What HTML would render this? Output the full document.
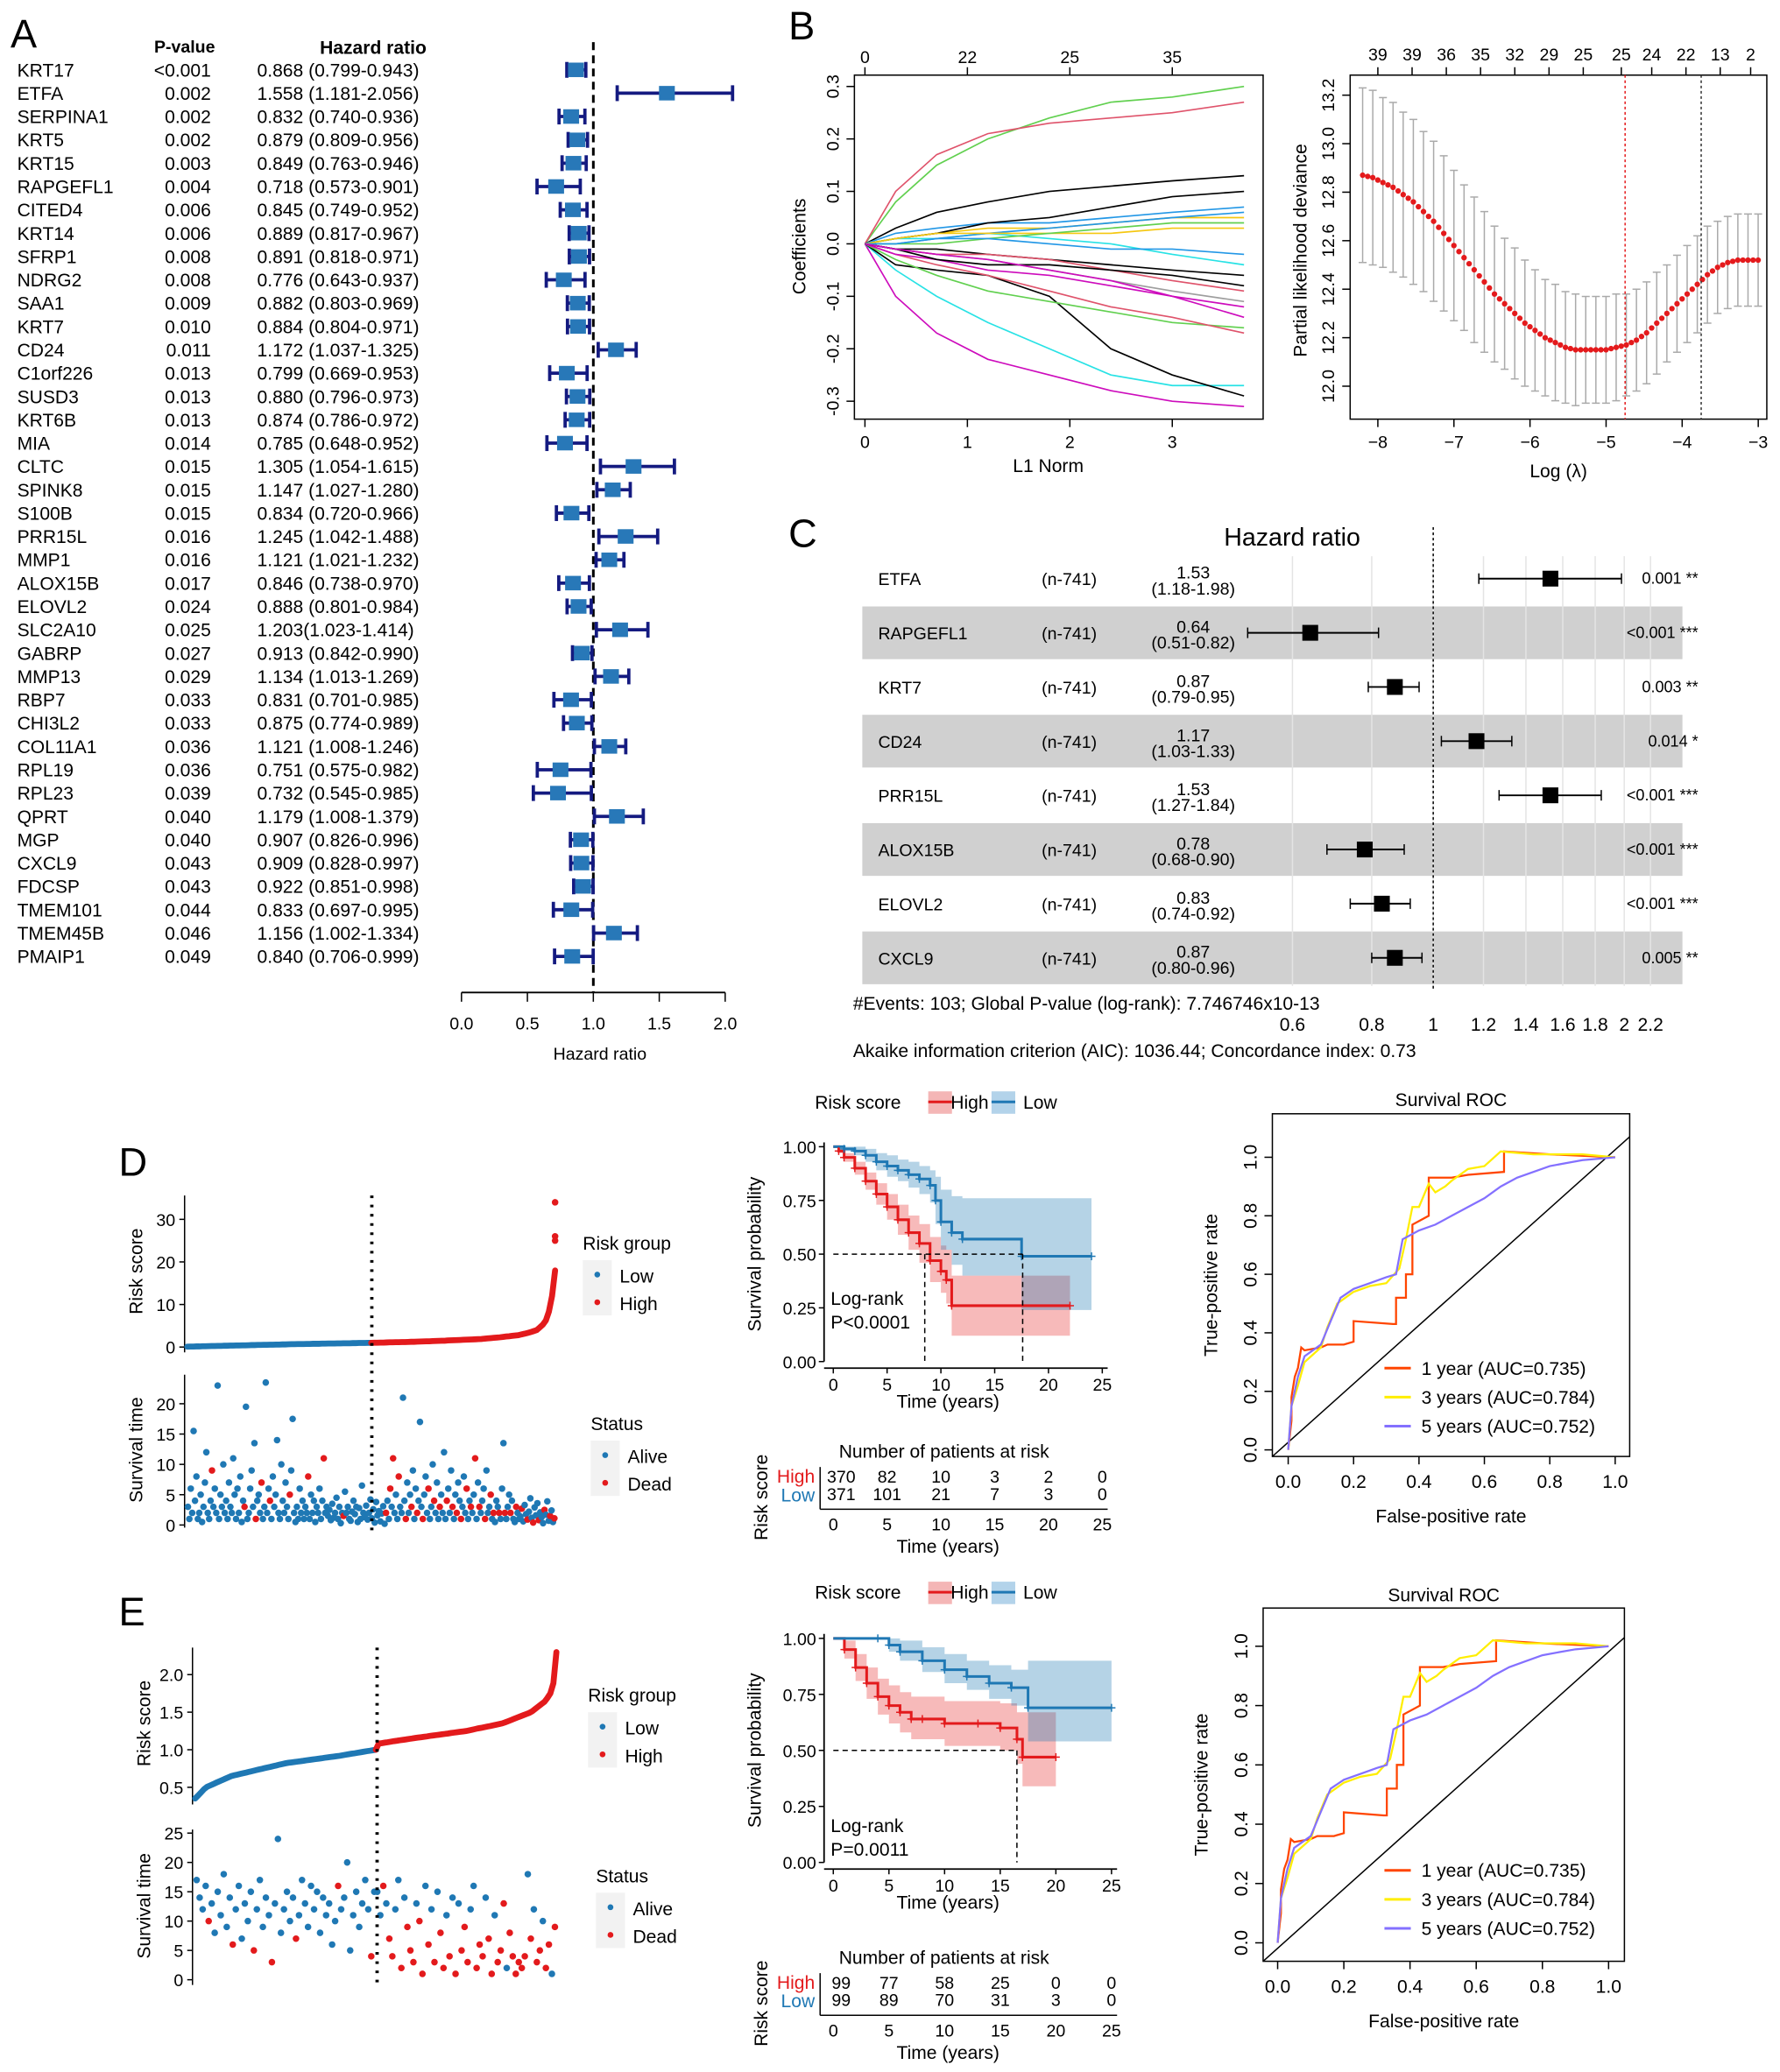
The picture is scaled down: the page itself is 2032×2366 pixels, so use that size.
<!DOCTYPE html>
<html><head><meta charset="utf-8"><title>Prognostic signature figure</title>
<style>
html,body{margin:0;padding:0;background:#fff;}
svg{display:block;font-family:"Liberation Sans",Arial,sans-serif;}
.nar{font-family:"Liberation Sans Narrow","Liberation Sans",sans-serif;}
</style></head>
<body>
<svg id="fig" xmlns="http://www.w3.org/2000/svg" width="2032" height="2366" viewBox="0 0 1350 1572" preserveAspectRatio="none">
<rect x="0" y="0" width="1350" height="1572" fill="#fff"/>
</svg>
<script>
// ===== Panel A data =====
const aGenes=["KRT17","ETFA","SERPINA1","KRT5","KRT15","RAPGEFL1","CITED4","KRT14","SFRP1","NDRG2","SAA1","KRT7","CD24","C1orf226","SUSD3","KRT6B","MIA","CLTC","SPINK8","S100B","PRR15L","MMP1","ALOX15B","ELOVL2","SLC2A10","GABRP","MMP13","RBP7","CHI3L2","COL11A1","RPL19","RPL23","QPRT","MGP","CXCL9","FDCSP","TMEM101","TMEM45B","PMAIP1"];
const aPvals=["<0.001","0.002","0.002","0.002","0.003","0.004","0.006","0.006","0.008","0.008","0.009","0.010","0.011","0.013","0.013","0.013","0.014","0.015","0.015","0.015","0.016","0.016","0.017","0.024","0.025","0.027","0.029","0.033","0.033","0.036","0.036","0.039","0.040","0.040","0.043","0.043","0.044","0.046","0.049"];
const aHR=[0.868,1.558,0.832,0.879,0.849,0.718,0.845,0.889,0.891,0.776,0.882,0.884,1.172,0.799,0.880,0.874,0.785,1.305,1.147,0.834,1.245,1.121,0.846,0.888,1.203,0.913,1.134,0.831,0.875,1.121,0.751,0.732,1.179,0.907,0.909,0.922,0.833,1.156,0.840];
const aLo=[0.799,1.181,0.740,0.809,0.763,0.573,0.749,0.817,0.818,0.643,0.803,0.804,1.037,0.669,0.796,0.786,0.648,1.054,1.027,0.720,1.042,1.021,0.738,0.801,1.023,0.842,1.013,0.701,0.774,1.008,0.575,0.545,1.008,0.826,0.828,0.851,0.697,1.002,0.706];
const aHi=[0.943,2.056,0.936,0.956,0.946,0.901,0.952,0.967,0.971,0.937,0.969,0.971,1.325,0.953,0.973,0.972,0.952,1.615,1.280,0.966,1.488,1.232,0.970,0.984,1.414,0.990,1.269,0.985,0.989,1.246,0.982,0.985,1.379,0.996,0.997,0.998,0.995,1.334,0.999];
const aTicks=[0.0,0.5,1.0,1.5,2.0];
// ===== Panel B data =====
const lassoNorm=[0,0.3,0.7,1.2,1.8,2.4,3.0,3.7];
const lassoColors=["#61d04f","#df536b","#000000","#cd0bbc","#28e2e5","#000000","#2297e6","#f5c710","#9e9e9e","#61d04f","#df536b","#000000","#cd0bbc","#28e2e5","#2297e6","#000000","#f5c710","#df536b","#61d04f","#000000","#2297e6","#cd0bbc"];
const lassoCoefs=[
[0,0.08,0.15,0.20,0.24,0.27,0.28,0.30],
[0,0.10,0.17,0.21,0.23,0.24,0.25,0.27],
[0,0.03,0.06,0.08,0.10,0.11,0.12,0.13],
[0,-0.10,-0.17,-0.22,-0.25,-0.28,-0.30,-0.31],
[0,-0.05,-0.10,-0.15,-0.20,-0.25,-0.27,-0.27],
[0,-0.04,-0.05,-0.06,-0.10,-0.20,-0.25,-0.29],
[0,0.02,0.03,0.04,0.04,0.05,0.06,0.07],
[0,0.01,0.02,0.03,0.03,0.04,0.05,0.05],
[0,-0.01,-0.02,-0.03,-0.05,-0.07,-0.09,-0.11],
[0,-0.03,-0.06,-0.09,-0.11,-0.13,-0.15,-0.16],
[0,-0.02,-0.04,-0.06,-0.09,-0.12,-0.14,-0.17],
[0,0.01,0.02,0.04,0.05,0.07,0.09,0.10],
[0,-0.02,-0.03,-0.05,-0.06,-0.08,-0.10,-0.12],
[0,0.01,0.01,0.02,0.01,0.00,-0.02,-0.04],
[0,0.00,0.01,0.02,0.03,0.04,0.05,0.06],
[0,-0.01,-0.01,-0.02,-0.03,-0.04,-0.05,-0.06],
[0,0.01,0.02,0.02,0.02,0.02,0.03,0.03],
[0,-0.01,-0.02,-0.02,-0.03,-0.05,-0.07,-0.09],
[0,0.00,0.00,0.01,0.02,0.03,0.04,0.04],
[0,-0.01,-0.03,-0.04,-0.04,-0.05,-0.06,-0.08],
[0,0.00,0.01,0.01,0.00,-0.01,-0.01,-0.02],
[0,-0.01,-0.02,-0.03,-0.05,-0.07,-0.10,-0.14]];
const lassoTopLabels=["0","22","25","35"];
const cvLogLambda0=-8.2, cvStep=0.1333;
const cvDev=[12.87,12.86,12.84,12.82,12.79,12.76,12.72,12.68,12.63,12.58,12.53,12.48,12.43,12.38,12.34,12.30,12.26,12.23,12.20,12.18,12.16,12.15,12.15,12.15,12.15,12.16,12.17,12.19,12.22,12.26,12.30,12.34,12.38,12.42,12.46,12.49,12.51,12.52,12.52,12.52];
const cvSE=[0.36,0.36,0.35,0.35,0.34,0.34,0.33,0.33,0.32,0.31,0.30,0.30,0.29,0.28,0.27,0.27,0.26,0.25,0.24,0.24,0.23,0.23,0.22,0.22,0.22,0.22,0.21,0.21,0.21,0.21,0.20,0.20,0.20,0.20,0.20,0.19,0.19,0.19,0.19,0.19];
const cvTopLabels=["39","39","36","35","32","29","25","25","24","22","13","2"];
const cvTopPos=[-8.0,-7.55,-7.1,-6.65,-6.2,-5.75,-5.3,-4.8,-4.4,-3.95,-3.5,-3.1];
const cvMin=-4.75, cv1se=-3.75;
// ===== Panel C data =====
const cGenes=["ETFA","RAPGEFL1","KRT7","CD24","PRR15L","ALOX15B","ELOVL2","CXCL9"];
const cHR=[1.53,0.64,0.87,1.17,1.53,0.78,0.83,0.87];
const cLo=[1.18,0.51,0.79,1.03,1.27,0.68,0.74,0.80];
const cHi=[1.98,0.82,0.95,1.33,1.84,0.90,0.92,0.96];
const cP=["0.001 **","<0.001 ***","0.003 **","0.014 *","<0.001 ***","<0.001 ***","<0.001 ***","0.005 **"];
const cTicks=[0.6,0.8,1,1.2,1.4,1.6,1.8,2,2.2];
// ===== Panel D data =====
const dRiskQ=[0,0.1,0.2,0.3,0.4,0.5,0.6,0.7,0.8,0.85,0.9,0.93,0.95,0.97,0.98,0.99,0.995,1];
const dRiskV=[0.1,0.3,0.5,0.7,0.85,1.0,1.2,1.5,1.9,2.3,2.8,3.4,4.0,5.5,7.0,11,14,18];
const dOutliers=[25,26,34];
const dTimesLow=[3,1,6,2,15.5,4,8,1,2,5,0.5,3,7,12,2,1,4,9,3,6,2,23,1,5,3,10,2,4,1,7,3,2,11,5,1,6,2,8,0.5,4,3,19.5,1,2,6,9,3,13.5,1,4,5,2,7,1,3,23.5,2,6,4,1,8,3,5,14,2,1,10,4,2,7,3,1,5,9,17.5,2,0.5,3,1,6,2,4,1,3,2,8,1,5,2,4,0.5,3,2,6,1,4,11,2,3,1.5,2.5,0.8,3.5,1.2,2,4.5,1,3,0.3,2,1.5,5.5,2,3,1,0.7,2.2,4,1.8,3,0.5,2.8,1,6.5,2,1.3,3.2,0.9,2,4.2,1.1,2.6,0.4,3.8,1.6,2.3,0.6,1.9,3.1,0.2];
const dTimesHigh=[2,4,1,6,3,11,2,5,1,8,3,2,21,4,1,7,2,5,3,9,1,6,2,4,17,3,1,5,8,2,6,1,3,10,4,2,7,1,3,5,2,12,1,4,6,2,9,3,1,5,2,7,4,1,3,8,2,6,1,4,3,2,5,11,1,7,3,2,4,6,1,9,2,3,5,1,2,0.5,4,3,2,1,6,13.5,2,1,3,5,2,4,1,0.5,3,2,1,1.4,2.7,0.6,3.3,1.8,0.9,2.2,4.4,1.2,0.4,2.9,1.6,3.6,0.8,2.1,1.3,0.3,2.5,1.7,3.9,0.7,1.5,2.4,0.5,1.1];
const dDeadLow=[17,40,48,52,58,72,85,96,110];
const dDeadHigh=[0,3,5,9,14,18,22,26,30,34,38,43,47,50,53,57,60,63,66,70,74,76,80,84,88,92,96,100,104,108,112,116,119];
const dKmHighT=[0,0.5,1,2,3,4,5,6,7,8,9,10,10.5,11,22];
const dKmHighS=[1,0.98,0.95,0.90,0.84,0.78,0.72,0.66,0.60,0.55,0.47,0.42,0.38,0.26,0.26];
const dKmHighLo=[1,0.97,0.93,0.87,0.80,0.73,0.66,0.59,0.52,0.46,0.37,0.32,0.27,0.12,0.12];
const dKmHighHi=[1,0.99,0.97,0.93,0.88,0.83,0.78,0.73,0.68,0.64,0.58,0.54,0.52,0.40,0.40];
const dKmLowT=[0,1,2,3,4,5,6,7,8,9,9.5,10,11,12,17.5,24];
const dKmLowS=[1,0.99,0.98,0.96,0.93,0.91,0.89,0.87,0.85,0.82,0.75,0.65,0.60,0.57,0.49,0.49];
const dKmLowLo=[1,0.98,0.96,0.93,0.89,0.86,0.84,0.81,0.78,0.74,0.64,0.52,0.45,0.40,0.24,0.24];
const dKmLowHi=[1,1,1,0.99,0.97,0.96,0.94,0.93,0.91,0.89,0.86,0.80,0.77,0.76,0.76,0.76];
const dAtRiskHigh=["370","82","10","3","2","0"];
const dAtRiskLow=["371","101","21","7","3","0"];
const dMedHigh=8.5, dMedLow=17.6;
const roc1F=[0,0.01,0.01,0.02,0.03,0.04,0.05,0.10,0.12,0.17,0.20,0.20,0.32,0.33,0.33,0.36,0.36,0.38,0.38,0.43,0.43,0.50,0.55,0.55,0.66,0.66,0.80,1];
const roc1T=[0,0.10,0.18,0.25,0.28,0.35,0.34,0.35,0.36,0.36,0.37,0.44,0.43,0.43,0.52,0.52,0.60,0.60,0.77,0.80,0.93,0.93,0.94,0.94,0.95,1.02,1.01,1];
const roc3F=[0,0.01,0.03,0.05,0.10,0.12,0.15,0.20,0.25,0.30,0.34,0.36,0.38,0.40,0.43,0.45,0.48,0.50,0.55,0.60,0.65,0.75,0.90,1];
const roc3T=[0,0.15,0.22,0.30,0.35,0.42,0.50,0.54,0.56,0.57,0.62,0.72,0.83,0.83,0.91,0.88,0.90,0.92,0.96,0.97,1.02,1.01,1.01,1];
const roc5F=[0,0.01,0.03,0.05,0.10,0.13,0.16,0.20,0.25,0.30,0.33,0.35,0.40,0.45,0.50,0.55,0.60,0.65,0.70,0.75,0.80,0.85,0.90,1];
const roc5T=[0,0.15,0.25,0.32,0.36,0.44,0.52,0.55,0.57,0.59,0.60,0.72,0.75,0.77,0.80,0.83,0.86,0.90,0.93,0.95,0.97,0.98,0.99,1];
// ===== Panel E data =====
const eRiskQ=[0,0.03,0.1,0.25,0.4,0.5,0.505,0.6,0.75,0.85,0.93,0.97,0.99,1];
const eRiskV=[0.35,0.5,0.65,0.82,0.92,1.0,1.08,1.15,1.25,1.35,1.5,1.65,1.8,2.3];
const eTimesLow=[17,14,12,16,10,13,8,15,11,18,9,14,6,12,16,7,13,10,15,5,12,17,9,14,11,3,13,24,8,12,15,10,14,7,11,17,13,9,16,12,15,8,14,11,13,6,10,16,12,14,20,5,11,15,9,13,17,12,4,15];
const eTimesHigh=[15,11,16,13,7,4,12,17,2,14,9,5,3,13,10,1,16,6,12,3,15,8,2,11,4,14,1,13,5,9,3,12,16,2,6,4,14,7,1,11,3,5,13,2,8,4,1,3,2,4,18,7,12,3,5,10,2,6,1,9];
const eDeadLow=[4,12,19,25,33,47,58];
const eDeadHigh=[2,4,5,8,10,11,12,14,15,17,19,21,22,24,26,28,29,30,33,34,35,37,38,40,41,42,44,45,46,47,48,49,51,53,54,56,57,59];
const eKmHighT=[0,1,2,3,4,5,6,7,8,10,13,15,16.5,17,20];
const eKmHighS=[1,0.95,0.87,0.80,0.74,0.70,0.67,0.64,0.64,0.62,0.62,0.60,0.55,0.47,0.47];
const eKmHighLo=[1,0.91,0.81,0.73,0.66,0.62,0.58,0.55,0.55,0.52,0.52,0.50,0.44,0.34,0.34];
const eKmHighHi=[1,0.99,0.93,0.87,0.82,0.79,0.76,0.74,0.74,0.72,0.72,0.71,0.67,0.67,0.67];
const eKmLowT=[0,4,5,6,8,10,12,14,16,17.5,25];
const eKmLowS=[1,1,0.97,0.94,0.90,0.86,0.83,0.80,0.78,0.69,0.69];
const eKmLowLo=[1,1,0.94,0.90,0.85,0.80,0.77,0.73,0.70,0.54,0.54];
const eKmLowHi=[1,1,1,0.99,0.96,0.93,0.90,0.88,0.86,0.90,0.90];
const eAtRiskHigh=["99","77","58","25","0","0"];
const eAtRiskLow=["99","89","70","31","3","0"];
const eMedHigh=16.5;

// ===== helpers =====
const NS="http://www.w3.org/2000/svg";
const svg=document.getElementById('fig');
function mk(tag,attrs,name,parent){
  const el=document.createElementNS(NS,tag);
  for(const k in attrs) el.setAttribute(k,attrs[k]);
  
  
  (parent||svg).appendChild(el);
  return el;
}
function txt(x,y,s,name,o){
  o=o||{};
  const a={x:x,y:y,'font-size':o.size||13,fill:o.fill||'#000','text-anchor':o.anchor||'start'};
  if(o.weight) a['font-weight']=o.weight;
  if(o.rot!==undefined) a.transform='rotate('+o.rot+' '+x+' '+y+')';
  if(o.cls) a['class']=o.cls;
  const t=mk('text',a,name);
  t.textContent=s;
  return t;
}
function line(x1,y1,x2,y2,name,o){
  o=o||{};
  const a={x1:x1,y1:y1,x2:x2,y2:y2,stroke:o.stroke||'#000','stroke-width':o.w||1};
  if(o.dash) a['stroke-dasharray']=o.dash;
  return mk('line',a,name);
}
function lerp(q,v,f){for(let i=1;i<q.length;i++){if(f<=q[i]){const t=(f-q[i-1])/(q[i]-q[i-1]);return v[i-1]+t*(v[i]-v[i-1]);}}return v[v.length-1];}

// ===== Panel A =====
txt(8,36,"A","panel-a-label",{size:30});
txt(140,40,"P-value","p-value-header",{size:13,weight:'bold',anchor:'middle',cls:'nar'});
txt(283,41,"Hazard ratio","hr-header",{size:14,weight:'bold',anchor:'middle',cls:'nar'});
const aX=v=>350+v*100, aY=i=>53+i*17.7;
line(aX(1),32,aX(1),753,"reference-line-hr1",{w:2,dash:'6,4'});
aGenes.forEach((g,i)=>{
  const y=aY(i);
  txt(13,y+5,g,"gene-label",{size:14,cls:'nar'});
  txt(160,y+5,aPvals[i],"p-value",{size:14,anchor:'end',cls:'nar'});
  txt(195,y+5,aHR[i].toFixed(3)+(i===24?"(":" (")+aLo[i].toFixed(3)+"-"+aHi[i].toFixed(3)+")","hr-ci-text",{size:14,cls:'nar'});
  line(aX(aLo[i]),y,aX(aHi[i]),y,"ci-bar",{stroke:'#141a80',w:2.5});
  line(aX(aLo[i]),y-6,aX(aLo[i]),y+6,"ci-cap",{stroke:'#141a80',w:2.5});
  line(aX(aHi[i]),y-6,aX(aHi[i]),y+6,"ci-cap",{stroke:'#141a80',w:2.5});
  mk('rect',{x:aX(aHR[i])-6,y:y-5.5,width:12,height:11,fill:'#2878b8'},"hr-point");
});
line(aX(0),753,aX(2),753,"x-axis-a",{w:1.2});
aTicks.forEach(t=>{line(aX(t),753,aX(t),760,"x-tick");txt(aX(t),781,t.toFixed(1),"x-tick-label",{size:13,anchor:'middle'});});
txt(455,804,"Hazard ratio","x-axis-title-a",{size:13,anchor:'middle'});

// ===== Panel B left =====
txt(598,30,"B","panel-b-label",{size:30});
const bX=v=>656+v*77.7, bY=v=>185-v*398;
mk('rect',{x:648,y:57,width:310,height:261,fill:'none',stroke:'#000','stroke-width':1},"lasso-plot-box");
lassoCoefs.forEach((c,k)=>{
  let d="";
  c.forEach((v,i)=>{d+=(i?"L":"M")+bX(lassoNorm[i]).toFixed(1)+","+bY(v).toFixed(1);});
  mk('path',{d:d,fill:'none',stroke:lassoColors[k],'stroke-width':1.1},"coef-path");
});
[0,1,2,3].forEach((t,i)=>{line(bX(t),318,bX(t),324,"x-tick");txt(bX(t),340,String(t),"x-tick-label",{size:13,anchor:'middle'});
  line(bX(t),57,bX(t),51,"top-tick");txt(bX(t),48,lassoTopLabels[i],"top-tick-label",{size:13,anchor:'middle'});});
[-0.3,-0.2,-0.1,0,0.1,0.2,0.3].forEach(t=>{line(648,bY(t),642,bY(t),"y-tick");txt(636,bY(t),t.toFixed(1),"y-tick-label",{size:13,anchor:'middle',rot:-90});});
txt(795,358,"L1 Norm","x-axis-title",{size:14,anchor:'middle'});
txt(611,187,"Coefficients","y-axis-title",{size:14,anchor:'middle',rot:-90});

// ===== Panel B right =====
const cvX=v=>1045+(v+8)*57.7, cvY=v=>293-(v-12.0)*184;
mk('rect',{x:1024,y:57,width:316,height:261,fill:'none',stroke:'#000','stroke-width':1},"cv-plot-box");
cvDev.forEach((v,i)=>{
  const l=cvLogLambda0+i*cvStep, x=cvX(l);
  line(x,cvY(v-cvSE[i]),x,cvY(v+cvSE[i]),"error-bar",{stroke:'#aaa',w:1});
  line(x-3,cvY(v-cvSE[i]),x+3,cvY(v-cvSE[i]),"error-cap",{stroke:'#aaa'});
  line(x-3,cvY(v+cvSE[i]),x+3,cvY(v+cvSE[i]),"error-cap",{stroke:'#aaa'});
});
cvDev.forEach((v,i)=>{
  const l=cvLogLambda0+i*cvStep;
  mk('circle',{cx:cvX(l),cy:cvY(v),r:2.1,fill:'#e41a1c'},"deviance-point");
  if(i<cvDev.length-1){mk('circle',{cx:cvX(l+cvStep/2),cy:cvY((v+cvDev[i+1])/2),r:2.1,fill:'#e41a1c'},"deviance-point");}
});
line(cvX(cvMin),57,cvX(cvMin),318,"lambda-min-line",{stroke:'#e41a1c',dash:'2,2'});
line(cvX(cv1se),57,cvX(cv1se),318,"lambda-1se-line",{stroke:'#333',dash:'2,2'});
[-8,-7,-6,-5,-4,-3].forEach(t=>{line(cvX(t),318,cvX(t),324,"x-tick");txt(cvX(t),340,String(t).replace('-','−'),"x-tick-label",{size:13,anchor:'middle'});});
cvTopLabels.forEach((s,i)=>{const x=cvX(cvTopPos[i]);line(x,57,x,51,"top-tick");txt(x,46,s,"top-tick-label",{size:13,anchor:'middle'});});
[12.0,12.2,12.4,12.6,12.8,13.0,13.2].forEach(t=>{line(1024,cvY(t),1018,cvY(t),"y-tick");txt(1012,cvY(t),t.toFixed(1),"y-tick-label",{size:13,anchor:'middle',rot:-90});});
txt(1182,362,"Log (λ)","x-axis-title",{size:14,anchor:'middle'});
txt(991,190,"Partial likelihood deviance","y-axis-title",{size:14,anchor:'middle',rot:-90});

// ===== Panel C =====
txt(598,415,"C","panel-c-label",{size:30});
const cX=v=>1087+Math.log(v)*209, cY=i=>439+i*41.1;
cGenes.forEach((g,i)=>{if(i%2===1) mk('rect',{x:654,y:cY(i)-20,width:622,height:40,fill:'#d0d0d0'},"row-band");});
cTicks.forEach(t=>{line(cX(t),422,cX(t),748,"grid-line",{stroke:'#e4e4e4',w:1});});
txt(980,414,"Hazard ratio","c-title",{size:19,anchor:'middle',cls:'nar'});
line(1087,400,1087,752,"reference-line-hr1",{dash:'2,2'});
cGenes.forEach((g,i)=>{
  const y=cY(i);
  txt(666,y+5,g,"gene-label",{size:13,cls:'nar'});
  txt(790,y+5,"(n-741)","n-label",{size:13,cls:'nar'});
  txt(905,y,cHR[i].toFixed(2),"hr-value",{size:13,anchor:'middle',cls:'nar'});
  txt(905,y+12,"("+cLo[i].toFixed(2)+"-"+cHi[i].toFixed(2)+")","ci-value",{size:13,anchor:'middle',cls:'nar'});
  line(cX(cLo[i]),y,cX(cHi[i]),y,"ci-line",{w:1.3});
  line(cX(cLo[i]),y-4,cX(cLo[i]),y+4,"ci-cap");
  line(cX(cHi[i]),y-4,cX(cHi[i]),y+4,"ci-cap");
  mk('rect',{x:cX(cHR[i])-6,y:y-6,width:12,height:12,fill:'#000'},"hr-point");
  txt(1288,y+4,cP[i],"p-value",{size:12,anchor:'end',cls:'nar'});
});
txt(647,766,"#Events: 103; Global P-value (log-rank): 7.746746x10-13","events-note",{size:14,cls:'nar'});
cTicks.forEach(t=>{txt(cX(t),782,String(t),"x-tick-label",{size:14,anchor:'middle',cls:'nar'});});
txt(647,802,"Akaike information criterion (AIC): 1036.44; Concordance index: 0.73","aic-note",{size:14,cls:'nar'});

// ===== risk plots =====
function riskPanel(o){
  const times=o.tLow.concat(o.tHigh);
  const deadSet=new Set(o.dLow.concat(o.dHigh.map(i=>i+o.tLow.length)));
  const n=times.length;
  const xs=f=>o.x0+f*(o.x1-o.x0);
  line(o.x0-2,o.rTop,o.x0-2,o.rBase+4,"y-axis-risk",{w:1});
  o.rTicks.forEach(t=>{const y=o.rY(t);line(o.x0-6,y,o.x0-2,y,"y-tick");txt(o.x0-9,y+5,o.rFmt(t),"y-tick-label",{size:13,anchor:'end'});});
  let dl="",dh="";
  const steps=120;
  for(let k=0;k<=steps;k++){const f=k/steps;const p=xs(f).toFixed(1)+","+o.rY(lerp(o.rq,o.rv,f)).toFixed(1);
    if(f<=0.5) dl+=(dl?"L":"M")+p; if(f>=0.5) dh+=(dh?"L":"M")+p;}
  mk('path',{d:dl,fill:'none',stroke:'#1f78b4','stroke-width':4.5,'stroke-linecap':'round'},"risk-curve-low");
  mk('path',{d:dh,fill:'none',stroke:'#e31a1c','stroke-width':4.5,'stroke-linecap':'round'},"risk-curve-high");
  (o.outliers||[]).forEach((v,i)=>{mk('circle',{cx:o.x1,cy:o.rY(v),r:2.5,fill:'#e31a1c'},"risk-outlier");});
  txt(o.x0-34,(o.rTop+o.rBase)/2,"Risk score","y-axis-title",{size:14,anchor:'middle',rot:-90});
  line(o.x0-2,o.sTop,o.x0-2,o.sBase+2,"y-axis-time",{w:1});
  o.sTicks.forEach(t=>{const y=o.sY(t);line(o.x0-6,y,o.x0-2,y,"y-tick");txt(o.x0-9,y+5,String(t),"y-tick-label",{size:13,anchor:'end'});});
  times.forEach((t,i)=>{
    mk('circle',{cx:xs((i+0.5)/n),cy:o.sY(t),r:2.5,fill:deadSet.has(i)?'#e31a1c':'#1f78b4'},"survival-point");
  });
  txt(o.x0-34,(o.sTop+o.sBase)/2,"Survival time","y-axis-title",{size:14,anchor:'middle',rot:-90});
  line(o.xSplit,o.rTop,o.xSplit,o.sBase+4,"group-cutoff-line",{w:2.5,dash:'2,5'});
  txt(o.lx,o.ly,"Risk group","legend-title",{size:14});
  mk('rect',{x:o.lx,y:o.ly+8,width:22,height:42,fill:'#f2f2f2'},"legend-key-bg");
  mk('circle',{cx:o.lx+11,cy:o.ly+19,r:2.2,fill:'#1f78b4'},"legend-marker-low");
  mk('circle',{cx:o.lx+11,cy:o.ly+40,r:2.2,fill:'#e31a1c'},"legend-marker-high");
  txt(o.lx+28,o.ly+25,"Low","legend-label",{size:14});
  txt(o.lx+28,o.ly+46,"High","legend-label",{size:14});
  txt(o.lx+6,o.ly2,"Status","legend-title",{size:14});
  mk('rect',{x:o.lx+6,y:o.ly2+8,width:22,height:42,fill:'#f2f2f2'},"legend-key-bg");
  mk('circle',{cx:o.lx+17,cy:o.ly2+19,r:2.2,fill:'#1f78b4'},"legend-marker-alive");
  mk('circle',{cx:o.lx+17,cy:o.ly2+40,r:2.2,fill:'#e31a1c'},"legend-marker-dead");
  txt(o.lx+34,o.ly2+25,"Alive","legend-label",{size:14});
  txt(o.lx+34,o.ly2+46,"Dead","legend-label",{size:14});
}
txt(90,892,"D","panel-d-label",{size:30});
riskPanel({x0:142,x1:421,xSplit:282,rTop:907,rBase:1022,rY:v=>1022-v*3.23,rq:dRiskQ,rv:dRiskV,outliers:dOutliers,rTicks:[0,10,20,30],rFmt:t=>String(t),
  sTop:1043,sBase:1157,sY:v=>1157-v*4.6,sTicks:[0,5,10,15,20],tLow:dTimesLow,tHigh:dTimesHigh,dLow:dDeadLow,dHigh:dDeadHigh,lx:442,ly:948,ly2:1085});
txt(90,1233,"E","panel-e-label",{size:30});
riskPanel({x0:148,x1:422,xSplit:286,rTop:1250,rBase:1365,rY:v=>1356-(v-0.5)*57,rq:eRiskQ,rv:eRiskV,outliers:[],rTicks:[0.5,1.0,1.5,2.0],rFmt:t=>t.toFixed(1),
  sTop:1388,sBase:1504,sY:v=>1502-v*4.45,sTicks:[0,5,10,15,20,25],tLow:eTimesLow,tHigh:eTimesHigh,dLow:eDeadLow,dHigh:eDeadHigh,lx:446,ly:1291,ly2:1428});

// ===== KM =====
function stepPath(T,S,xS,yS){let d="M"+xS(T[0])+","+yS(S[0]);for(let i=1;i<T.length;i++){d+="H"+xS(T[i]).toFixed(1)+"V"+yS(S[i]).toFixed(1);}return d;}
function band(T,L,H,xS,yS){let d="M"+xS(T[0])+","+yS(H[0]);for(let i=1;i<T.length;i++){d+="H"+xS(T[i]).toFixed(1)+"V"+yS(H[i]).toFixed(1);}
  for(let i=T.length-1;i>=0;i--){d+="L"+xS(T[i]).toFixed(1)+","+yS(L[i]).toFixed(1);if(i>0)d+="L"+xS(T[i]).toFixed(1)+","+yS(L[i-1]).toFixed(1);}
  return d+"Z";}
function km(o){
  const xS=t=>o.x0+t*o.px, yS=s=>o.yb-s*o.py;
  txt(o.x0-14,o.legY,"Risk score","legend-title",{size:14});
  mk('rect',{x:o.x0+72,y:o.legY-13,width:18,height:17,fill:'#f4b6b6'},"legend-key-high");
  line(o.x0+72,o.legY-5,o.x0+90,o.legY-5,"legend-line-high",{stroke:'#e31a1c',w:2});
  txt(o.x0+89,o.legY,"High","legend-label",{size:14});
  mk('rect',{x:o.x0+120,y:o.legY-13,width:18,height:17,fill:'#b3d3ea'},"legend-key-low");
  line(o.x0+120,o.legY-5,o.x0+138,o.legY-5,"legend-line-low",{stroke:'#1f78b4',w:2});
  txt(o.x0+144,o.legY,"Low","legend-label",{size:14});
  mk('path',{d:band(o.hT,o.hL,o.hH,xS,yS),fill:'#e31a1c','fill-opacity':0.3},"ci-band-high");
  mk('path',{d:band(o.lT,o.lL,o.lH,xS,yS),fill:'#1f78b4','fill-opacity':0.33},"ci-band-low");
  mk('path',{d:stepPath(o.hT,o.hS,xS,yS),fill:'none',stroke:'#e31a1c','stroke-width':2},"km-curve-high");
  mk('path',{d:stepPath(o.lT,o.lS,xS,yS),fill:'none',stroke:'#1f78b4','stroke-width':2},"km-curve-low");
  o.hT.forEach((t,i)=>{if(i>0){line(xS(t)-3,yS(o.hS[i]),xS(t)+3,yS(o.hS[i]),"censor-mark",{stroke:'#e31a1c'});line(xS(t),yS(o.hS[i])-3,xS(t),yS(o.hS[i])+3,"censor-mark",{stroke:'#e31a1c'});}});
  o.lT.forEach((t,i)=>{if(i>0){line(xS(t)-3,yS(o.lS[i]),xS(t)+3,yS(o.lS[i]),"censor-mark",{stroke:'#1f78b4'});line(xS(t),yS(o.lS[i])-3,xS(t),yS(o.lS[i])+3,"censor-mark",{stroke:'#1f78b4'});}});
  const medX=Math.max(...o.meds);
  line(o.x0,yS(0.5),xS(medX),yS(0.5),"median-line",{dash:'4,3'});
  o.meds.forEach(m=>line(xS(m),yS(0.5),xS(m),yS(0),"median-drop",{dash:'4,3'}));
  line(o.x0-7,yS(1.02),o.x0-7,yS(0),"y-axis",{w:1.2});
  line(o.x0-7,yS(0)+5,xS(25.5),yS(0)+5,"x-axis",{w:1.2});
  [0,0.25,0.5,0.75,1].forEach(t=>{line(o.x0-11,yS(t),o.x0-7,yS(t),"y-tick");txt(o.x0-13,yS(t)+5,t.toFixed(2),"y-tick-label",{size:13,anchor:'end'});});
  [0,5,10,15,20,25].forEach(t=>{line(xS(t),yS(0)+5,xS(t),yS(0)+9,"x-tick");txt(xS(t),yS(0)+22,String(t),"x-tick-label",{size:13,anchor:'middle'});});
  txt(o.x0+87,yS(0)+35,"Time (years)","x-axis-title",{size:14,anchor:'middle'});
  txt(o.x0-55,(yS(0)+yS(1))/2,"Survival probability","y-axis-title",{size:14,anchor:'middle',rot:-90});
  txt(o.x0-2,o.lrY,"Log-rank","logrank-label",{size:14});
  txt(o.x0-2,o.lrY+18,o.p,"logrank-p",{size:14});
  txt(o.x0+84,o.tY,"Number of patients at risk","risk-table-title",{size:14,anchor:'middle'});
  txt(o.x0-14,o.tY+19,"High","risk-table-high",{size:14,anchor:'end',fill:'#e31a1c'});
  txt(o.x0-14,o.tY+33,"Low","risk-table-low",{size:14,anchor:'end',fill:'#1f78b4'});
  line(o.x0-10,o.tY+7,o.x0-10,o.tY+39,"table-axis-y");
  line(o.x0-10,o.tY+39,xS(25.5),o.tY+39,"table-axis-x");
  [0,5,10,15,20,25].forEach((t,i)=>{
    txt(xS(t)+(i===0?6:0),o.tY+19,o.hR[i],"at-risk-high",{size:13,anchor:'middle'});
    txt(xS(t)+(i===0?6:0),o.tY+32,o.lR[i],"at-risk-low",{size:13,anchor:'middle'});
    txt(xS(t),o.tY+55,String(t),"x-tick-label",{size:13,anchor:'middle'});
  });
  txt(o.x0+87,o.tY+72,"Time (years)","x-axis-title",{size:14,anchor:'middle'});
  txt(o.x0-50,o.tY+30,"Risk score","y-axis-title",{size:14,anchor:'middle',rot:-90});
}
km({x0:632,px:8.16,yb:1033,py:163,legY:841,hT:dKmHighT,hS:dKmHighS,hL:dKmHighLo,hH:dKmHighHi,lT:dKmLowT,lS:dKmLowS,lL:dKmLowLo,lH:dKmLowHi,
  meds:[dMedHigh,dMedLow],lrY:990,p:"P<0.0001",tY:1106,hR:dAtRiskHigh,lR:dAtRiskLow});
km({x0:632,px:8.44,yb:1413,py:170,legY:1213,hT:eKmHighT,hS:eKmHighS,hL:eKmHighLo,hH:eKmHighHi,lT:eKmLowT,lS:eKmLowS,lL:eKmLowLo,lH:eKmLowHi,
  meds:[eMedHigh],lrY:1390,p:"P=0.0011",tY:1490,hR:eAtRiskHigh,lR:eAtRiskLow});

// ===== ROC =====
function roc(o){
  const xS=f=>o.x0+f*o.w, yS=t=>o.y0-t*o.h;
  txt((o.bx+o.bx2)/2,o.titleY,"Survival ROC","roc-title",{size:14,anchor:'middle'});
  mk('rect',{x:o.bx,y:o.by,width:o.bx2-o.bx,height:o.by2-o.by,fill:'none',stroke:'#000'},"roc-box");
  line(o.bx,o.by2,o.bx2,o.by2-(o.bx2-o.bx)*o.h/o.w,"diagonal",{});
  [[roc1F,roc1T,'#ff4500'],[roc3F,roc3T,'#ffee00'],[roc5F,roc5T,'#8470ff']].forEach((c,k)=>{
    let d="";c[0].forEach((f,i)=>{d+=(i?"L":"M")+xS(f).toFixed(1)+","+yS(c[1][i]).toFixed(1);});
    mk('path',{d:d,fill:'none',stroke:c[2],'stroke-width':1.5},"roc-curve");
  });
  [0,0.2,0.4,0.6,0.8,1].forEach(t=>{
    line(xS(t),o.by2,xS(t),o.by2+6,"x-tick");txt(xS(t),o.by2+24,t.toFixed(1),"x-tick-label",{size:14,anchor:'middle'});
    line(o.bx,yS(t),o.bx-6,yS(t),"y-tick");txt(o.bx-12,yS(t),t.toFixed(1),"y-tick-label",{size:14,anchor:'middle',rot:-90});
  });
  txt((o.bx+o.bx2)/2,o.by2+50,"False-positive rate","x-axis-title",{size:14,anchor:'middle'});
  txt(o.bx-42,(o.by+o.by2)/2,"True-positive rate","y-axis-title",{size:14,anchor:'middle',rot:-90});
  const lab=["1 year (AUC=0.735)","3 years (AUC=0.784)","5 years (AUC=0.752)"], cols=['#ff4500','#ffee00','#8470ff'];
  lab.forEach((s,i)=>{const y=o.legY+i*22;line(o.legX,y,o.legX+20,y,"legend-line",{stroke:cols[i],w:2});txt(o.legX+28,y+5,s,"legend-label",{size:14});});
}
roc({x0:977,w:248,y0:1100,h:222,bx:965,bx2:1236,by:845,by2:1105,titleY:839,legX:1050,legY:1038});
roc({x0:969,w:251,y0:1474,h:225,bx:958,bx2:1232,by:1220,by2:1488,titleY:1215,legX:1050,legY:1419});
</script>
</body></html>
